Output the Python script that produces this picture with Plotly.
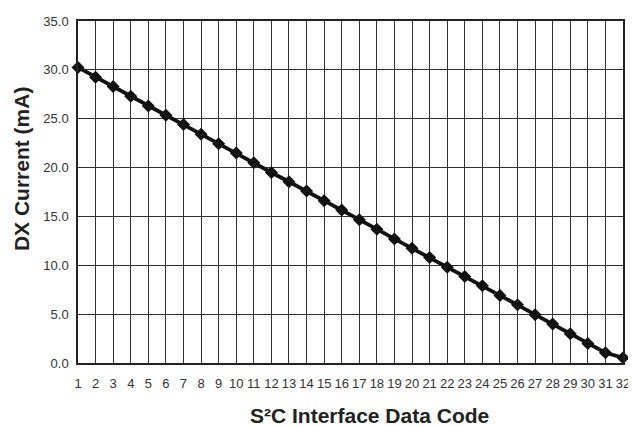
import plotly.graph_objects as go

codes = list(range(1, 33))
current_ma = [30.25, 29.25, 28.3, 27.3, 26.3, 25.35, 24.4, 23.4, 22.45, 21.5,
              20.5, 19.5, 18.55, 17.6, 16.6, 15.65, 14.65, 13.7, 12.7, 11.75,
              10.8, 9.8, 8.85, 7.9, 6.9, 5.95, 4.95, 4.0, 3.0, 2.0, 1.05, 0.55]
y_ticks = [0, 5, 10, 15, 20, 25, 30, 35]
y_tick_labels = ["0.0", "5.0", "10.0", "15.0", "20.0", "25.0", "30.0", "35.0"]
x_title = "S²C Interface Data Code"
y_title = "DX Current (mA)"

fig = go.Figure()
fig.add_trace(go.Scatter(
    x=codes, y=current_ma, mode="lines+markers",
    line=dict(color="#111111", width=3.8),
    marker=dict(symbol="diamond", size=10, color="#111111"),
    cliponaxis=False, showlegend=False,
))

font_family = "Liberation Sans, Arial, sans-serif"
fig.update_layout(
    width=628, height=418,
    margin=dict(l=70, r=9, t=6, b=63),
    paper_bgcolor="white", plot_bgcolor="white",
    font=dict(family=font_family, color="#222222"),
    xaxis=dict(
        range=[1, 32], tickmode="array", tickvals=codes,
        ticktext=[str(c) for c in codes],
        showgrid=True, gridcolor="#333333", gridwidth=1,
        showline=True, linecolor="#222222", linewidth=1.5, mirror=True,
        zeroline=False, ticks="outside", ticklen=8, tickcolor="rgba(0,0,0,0)",
        tickfont=dict(size=13, color="#333333"),
    ),
    yaxis=dict(
        range=[0, 35], tickmode="array", tickvals=y_ticks, ticktext=y_tick_labels,
        showgrid=True, gridcolor="#333333", gridwidth=1,
        showline=True, linecolor="#222222", linewidth=1.5, mirror=True,
        zeroline=False, ticks="outside", ticklen=5, tickcolor="rgba(0,0,0,0)",
        tickfont=dict(size=13, color="#333333"),
    ),
    annotations=[
        dict(text="<b>" + x_title + "</b>", xref="paper", yref="paper",
             x=0.5355, y=-0.153, xanchor="center", yanchor="middle",
             showarrow=False, font=dict(size=21, color="#222222")),
        dict(text="<b>" + y_title + "</b>", xref="paper", yref="paper",
             x=-0.104, y=0.568, xanchor="center", yanchor="middle", textangle=-90,
             showarrow=False, font=dict(size=21, color="#222222")),
    ],
)

fig.write_html("out.html")
